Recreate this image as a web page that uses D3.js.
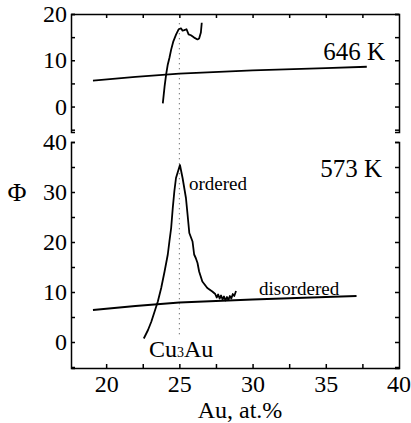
<!DOCTYPE html>
<html lang="en">
<head>
    <meta charset="UTF-8">
    <title>Phi vs Au content</title>
    <style>
        body { margin: 0; background: #fff; }
        svg { display: block; }
        text { font-family: "Liberation Serif", "DejaVu Serif", serif; fill: #000; }
    </style>
</head>
<body>
    <svg id="chart" width="411" height="423"></svg>

    <script src="https://d3js.org/d3.v7.min.js"></script>
    <script>
        // tick values
        const xMajor = [20, 25, 30, 35, 40];
        const xMinor = [20, 22.5, 25, 27.5, 30, 32.5, 35, 37.5];
        const topYTicks = [-5, 0, 5, 10, 15, 20];
        const botYTicks = [-5, 0, 5, 10, 15, 20, 25, 30, 35, 40];

        // 646 K panel: [Au at.%, Phi]
        const orderedHigh = [
            [23.87, 0.7], [23.99, 4.3], [24.10, 7.0], [24.21, 9.1], [24.32, 10.5],
            [24.44, 12.3], [24.59, 14.1], [24.78, 15.6], [24.95, 16.7], [25.11, 16.9],
            [25.22, 16.4], [25.34, 16.5], [25.49, 16.7], [25.63, 15.6], [25.79, 15.4],
            [26.01, 14.9], [26.24, 14.5], [26.35, 14.7], [26.47, 16.0], [26.53, 18.1]
        ];
        const disorderedHigh = [
            [19.1, 5.6], [22, 6.4], [25, 7.1], [30, 7.8], [35, 8.3], [37.8, 8.6]
        ];

        // 573 K panel
        const orderedLow = [
            [22.57, 0.7], [22.64, 1.1], [22.86, 2.4], [23.09, 4.1], [23.31, 6.1],
            [23.53, 8.1], [23.76, 10.8], [23.99, 14.1], [24.10, 15.8], [24.21, 17.5],
            [24.32, 20.1], [24.44, 22.8], [24.55, 26.8], [24.66, 30.2], [24.77, 32.8],
            [25.04, 35.4], [25.22, 32.8], [25.45, 28.8], [25.56, 25.5], [25.68, 21.8],
            [25.90, 20.1], [26.01, 17.5], [26.12, 16.8], [26.24, 15.8], [26.35, 14.1],
            [26.57, 12.1], [26.91, 10.8], [27.25, 10.1], [27.45, 9.6], [27.55, 8.9],
            [27.65, 9.5], [27.75, 8.7], [27.85, 9.3], [27.95, 8.5], [28.05, 9.1],
            [28.15, 8.3], [28.25, 9.0], [28.35, 8.4], [28.45, 9.2], [28.55, 8.7],
            [28.65, 9.6], [28.75, 9.2], [28.87, 10.2]
        ];
        const disorderedLow = [
            [19.1, 6.4], [22, 7.2], [25, 7.9], [30, 8.5], [35, 9.0], [37.1, 9.2]
        ];

        const svg = d3.select("#chart");
        const left = 71, right = 399;

        const x = d3.scaleLinear().domain([17.6, 40]).range([left, right]);
        const yTop = d3.scaleLinear().domain([-5.5, 20]).range([132, 14]);
        const yBot = d3.scaleLinear().domain([-5.2, 40]).range([368, 142]);

        function style(g) {
            g.attr("font-family", null).attr("font-size", null);
            g.selectAll("path, line").attr("stroke", "#000").attr("stroke-width", 1.5);
            g.selectAll("text").style("font-size", "24px");
        }

        // ---- top panel (646 K) ----
        svg.append("g")
            .attr("transform", `translate(0,${yTop.range()[1]})`)
            .call(d3.axisTop(x).tickValues(xMinor).tickSize(-4).tickSizeOuter(0).tickFormat(""))
            .call(style);
        svg.append("g")
            .attr("transform", `translate(${left},0)`)
            .call(d3.axisLeft(yTop).tickValues(topYTicks).tickSize(-4).tickSizeOuter(-4)
                .tickFormat(d => d % 10 === 0 && d >= 0 ? d : "").tickPadding(4))
            .call(style);
        svg.append("g")
            .attr("transform", `translate(${right},0)`)
            .call(d3.axisRight(yTop).tickValues(topYTicks).tickSize(-4).tickSizeOuter(-4).tickFormat(""))
            .call(style);

        // ---- bottom panel (573 K) ----
        svg.append("g")
            .attr("transform", `translate(0,${yBot.range()[0]})`)
            .call(d3.axisBottom(x).tickValues(xMinor).tickSize(-4).tickSizeOuter(0)
                .tickFormat(d => xMajor.includes(d) ? d : "").tickPadding(7))
            .call(style);
        // 40 label at the right edge
        svg.append("text")
            .attr("x", x(40)).attr("y", yBot.range()[0] + 7)
            .attr("dy", "0.71em")
            .attr("text-anchor", "middle").style("font-size", "24px").text("40");
        svg.append("g")
            .attr("transform", `translate(${left},0)`)
            .call(d3.axisLeft(yBot).tickValues(botYTicks).tickSize(-4).tickSizeOuter(-4)
                .tickFormat(d => d % 10 === 0 && d >= 0 ? d : "").tickPadding(4))
            .call(style);
        svg.append("g")
            .attr("transform", `translate(${right},0)`)
            .call(d3.axisRight(yBot).tickValues(botYTicks).tickSize(-4).tickSizeOuter(-4).tickFormat(""))
            .call(style);

        // dotted line at Cu3Au composition
        svg.append("line")
            .attr("x1", x(25)).attr("x2", x(25))
            .attr("y1", yTop(18)).attr("y2", yBot(0.8))
            .attr("stroke", "#444").attr("stroke-width", 1)
            .attr("stroke-dasharray", "1,4");

        // curves
        const lineTop = d3.line().x(d => x(d[0])).y(d => yTop(d[1]));
        const lineBot = d3.line().x(d => x(d[0])).y(d => yBot(d[1]));

        [[orderedHigh, lineTop], [disorderedHigh, lineTop],
         [orderedLow, lineBot], [disorderedLow, lineBot]].forEach(([data, gen]) => {
            svg.append("path")
                .datum(data)
                .attr("d", gen)
                .attr("fill", "none")
                .attr("stroke", "#000")
                .attr("stroke-width", 1.8)
                .attr("stroke-linejoin", "round");
        });

        // labels
        svg.append("text").attr("x", 385).attr("y", 60)
            .attr("text-anchor", "end").style("font-size", "25px").text("646 K");
        svg.append("text").attr("x", 382).attr("y", 177)
            .attr("text-anchor", "end").style("font-size", "25px").text("573 K");
        svg.append("text").attr("x", 189).attr("y", 190)
            .style("font-size", "19px").text("ordered");
        svg.append("text").attr("x", 259).attr("y", 295)
            .style("font-size", "19px").text("disordered");

        const cu = svg.append("text").attr("x", 149).attr("y", 357).style("font-size", "24px");
        cu.append("tspan").text("Cu");
        cu.append("tspan").style("font-size", "14px").text("3");
        cu.append("tspan").text("Au");

        svg.append("text").attr("x", 17).attr("y", 201)
            .attr("text-anchor", "middle").style("font-size", "26px").text("Φ");
        svg.append("text").attr("x", 240).attr("y", 418)
            .attr("text-anchor", "middle").style("font-size", "24px").text("Au, at.%");
    </script>
</body>
</html>
